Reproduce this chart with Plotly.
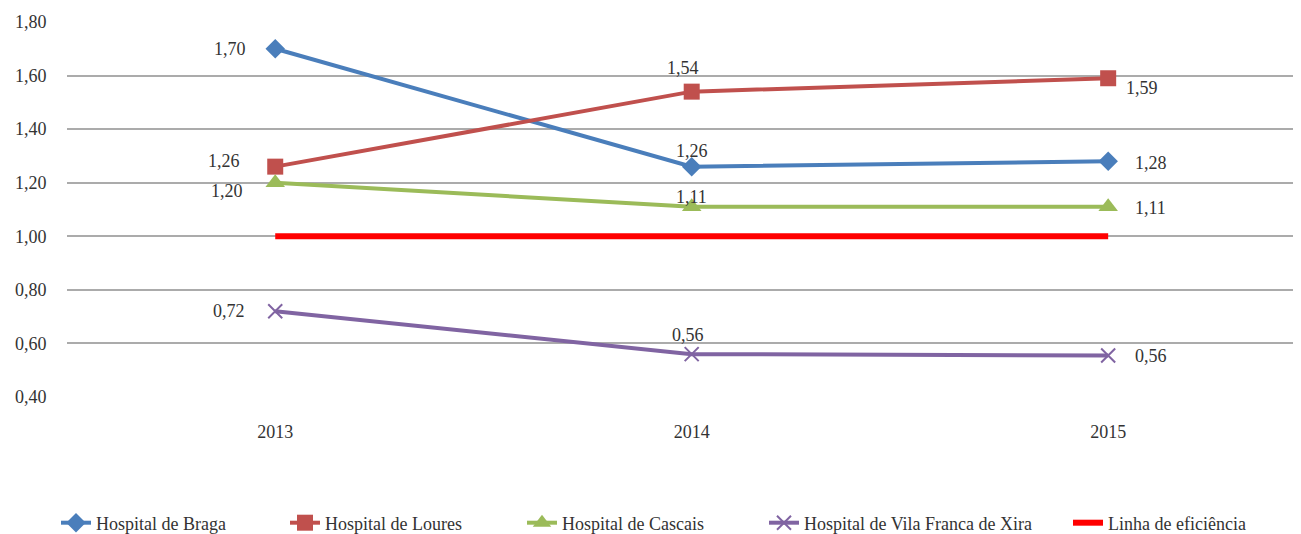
import plotly.graph_objects as go

years = ["2013", "2014", "2015"]
braga = [1.70, 1.26, 1.28]
loures = [1.26, 1.54, 1.59]
cascais = [1.20, 1.11, 1.11]
vfx = [0.72, 0.56, 0.555]
eficiencia = [1.00, 1.00, 1.00]
y_ticks = [0.40, 0.60, 0.80, 1.00, 1.20, 1.40, 1.60, 1.80]

names = ["Hospital de Braga", "Hospital de Loures", "Hospital de Cascais",
         "Hospital de Vila Franca de Xira"]
series = [braga, loures, cascais, vfx]
colors = ["#4A7EBB", "#C0504D", "#9BBB59", "#8064A2"]
symbols = ["diamond", "square", "triangle-up", "x-thin"]
msizes = [15, 16, 17, 14]

# label placement per point: (xanchor, xshift, yshift)
label_pos = [
    [("right", -27, 0), ("center", 0, 16), ("left", 25, -2)],
    [("right", -33, 6), ("center", -9, 24), ("left", 16, -10)],
    [("right", -30, -8), ("center", 0, 10), ("left", 25, -1)],
    [("right", -28, 0), ("center", -4, 19), ("left", 25, -1)],
]
# legend text start (screen px) for each entry
legend_text_x = [97, 326, 563, 805, 1109]

# page body has an 8px margin in the browser
OFF = 8
W, H = 1301 - OFF, 534 - OFF

FONT = "Liberation Serif"
FS = 18
TXT = "#333333"
fig = go.Figure()
legend_ids = ["legend", "legend2", "legend3", "legend4", "legend5"]
for i, (name, vals, c, s, ms) in enumerate(zip(names, series, colors, symbols, msizes)):
    marker = dict(symbol=s, size=ms, color=c)
    if s == "x-thin":
        marker["line"] = dict(color=c, width=2)
    fig.add_trace(go.Scatter(x=years, y=vals, name=name, mode="lines+markers",
                             line=dict(color=c, width=4), marker=marker,
                             legend=legend_ids[i]))
fig.add_trace(go.Scatter(x=years, y=eficiencia, name="Linha de eficiência", mode="lines",
                         line=dict(color="#FF0000", width=6), legend=legend_ids[4]))

annotations = []
for vals, pos in zip(series, label_pos):
    for idx, (v, (xa, xs, ys)) in enumerate(zip(vals, pos)):
        annotations.append(dict(x=idx, y=v, xref="x", yref="y",
                                text=f"{v:.2f}".replace(".", ","), showarrow=False,
                                xanchor=xa, yanchor="middle", xshift=xs, yshift=ys,
                                font=dict(family=FONT, size=FS, color=TXT)))

legends = {}
for lid, tx in zip(legend_ids, legend_text_x):
    legends[lid] = dict(orientation="h", xref="container", yref="container",
                        x=(tx - OFF - 41) / W, xanchor="left",
                        y=(534 - 523) / H, yanchor="middle",
                        bgcolor="rgba(0,0,0,0)",
                        font=dict(family=FONT, size=FS, color=TXT))

fig.update_layout(
    width=W, height=H,
    margin=dict(l=67 - OFF, r=0, t=22 - OFF, b=534 - 397, pad=0),
    paper_bgcolor="white", plot_bgcolor="white",
    font=dict(family=FONT, size=FS, color=TXT),
    showlegend=True,
    annotations=annotations,
    xaxis=dict(type="category", range=[-0.5, 2.463], showgrid=False, zeroline=False,
               showline=False, automargin=False,
               ticks="outside", ticklen=18, tickcolor="rgba(0,0,0,0)",
               tickfont=dict(family=FONT, size=FS, color=TXT)),
    yaxis=dict(range=[0.4, 1.8], tickvals=y_ticks, automargin=False,
               ticktext=[f"{t:.2f}".replace(".", ",") for t in y_ticks],
               showgrid=True, gridcolor="#ABABAB", gridwidth=1.5, zeroline=False,
               showline=False, ticks="outside", ticklen=16, tickcolor="rgba(0,0,0,0)",
               tickfont=dict(family=FONT, size=FS, color=TXT)),
    **legends,
)

fig.write_html("out.html")
